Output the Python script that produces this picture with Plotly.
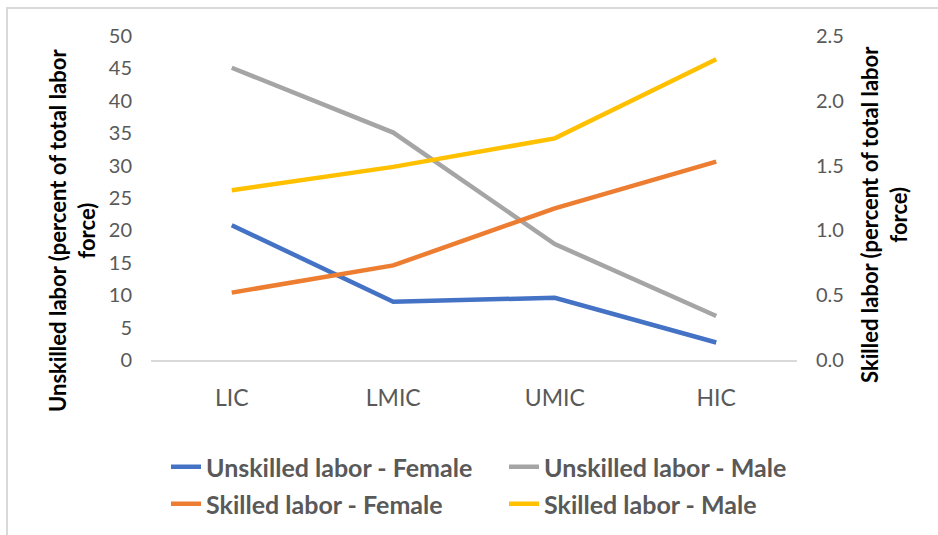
import plotly.graph_objects as go

categories = ["LIC", "LMIC", "UMIC", "HIC"]
unskilled_female = [20.8, 9.0, 9.6, 2.7]
unskilled_male = [45.1, 35.1, 17.9, 6.8]
skilled_female = [0.52, 0.73, 1.17, 1.53]
skilled_male = [1.31, 1.49, 1.71, 2.32]

left_ticks = [0, 5, 10, 15, 20, 25, 30, 35, 40, 45, 50]
right_ticks = [0.0, 0.5, 1.0, 1.5, 2.0, 2.5]

FONT = "Lato"
W, H = 938, 535
L, R, T, B = 151, 141, 36, 175
pw, ph = W - L - R, H - T - B


def px_x(x):
    return (x - L) / pw


def px_y(y):
    return 1 - (y - T) / ph


fig = go.Figure()
fig.add_trace(go.Scatter(x=categories, y=unskilled_female, name="Unskilled labor - Female",
                         mode="lines", line=dict(color="#4472C4", width=4.5), legend="legend"))
fig.add_trace(go.Scatter(x=categories, y=unskilled_male, name="Unskilled labor - Male",
                         mode="lines", line=dict(color="#A5A5A5", width=4.5), legend="legend2"))
fig.add_trace(go.Scatter(x=categories, y=skilled_female, name="Skilled labor - Female",
                         mode="lines", line=dict(color="#ED7D31", width=4.5), yaxis="y2", legend="legend3"))
fig.add_trace(go.Scatter(x=categories, y=skilled_male, name="Skilled labor - Male",
                         mode="lines", line=dict(color="#FFC000", width=4.5), yaxis="y2", legend="legend4"))

tickfont = dict(family=FONT, size=20, color="#595959")
catfont = dict(family=FONT, size=23, color="#595959")
legfont = dict(family=FONT, size=25, color="#595959", weight="bold")


def leg(xpx, ypx):
    return dict(orientation="h", x=px_x(xpx), y=px_y(ypx), xanchor="left", yanchor="middle",
                font=legfont, bgcolor="rgba(0,0,0,0)")


fig.update_layout(
    width=W, height=H,
    margin=dict(l=L, r=R, t=T, b=B, autoexpand=False),
    paper_bgcolor="white", plot_bgcolor="white",
    xaxis=dict(range=[-0.5, 3.5], showgrid=False, zeroline=False, showline=True,
               linecolor="#D9D9D9", linewidth=1.5, ticks="", tickfont=catfont,
               ticklabelstandoff=17),
    yaxis=dict(range=[0, 50], tickvals=left_ticks, showgrid=False, zeroline=False,
               showline=False, ticks="", tickfont=tickfont, ticklabelstandoff=18),
    yaxis2=dict(range=[0, 2.5], tickvals=right_ticks, tickformat=".1f", overlaying="y",
                side="right", showgrid=False, zeroline=False, showline=False, ticks="",
                tickfont=tickfont, ticklabelstandoff=18),
    showlegend=True,
    legend=leg(166, 467),
    legend2=leg(504, 467),
    legend3=leg(166, 504),
    legend4=leg(504, 504),
)

titlefont = dict(family=FONT, size=22, color="black", weight="bold")
fig.add_annotation(text="Unskilled labor (percent of total labor<br>force)", textangle=-90,
                   xref="paper", yref="paper", x=px_x(72), y=px_y(231), showarrow=False,
                   font=titlefont, xanchor="center", yanchor="middle")
fig.add_annotation(text="Skilled labor (percent of total labor<br>force)", textangle=-90,
                   xref="paper", yref="paper", x=px_x(884), y=px_y(215), showarrow=False,
                   font=titlefont, xanchor="center", yanchor="middle")

fig.add_shape(type="rect", xref="paper", yref="paper",
              x0=px_x(7), x1=px_x(980), y0=px_y(580), y1=px_y(8),
              line=dict(color="#D9D9D9", width=2), fillcolor="rgba(0,0,0,0)", layer="below")

fig.write_html("out.html")
